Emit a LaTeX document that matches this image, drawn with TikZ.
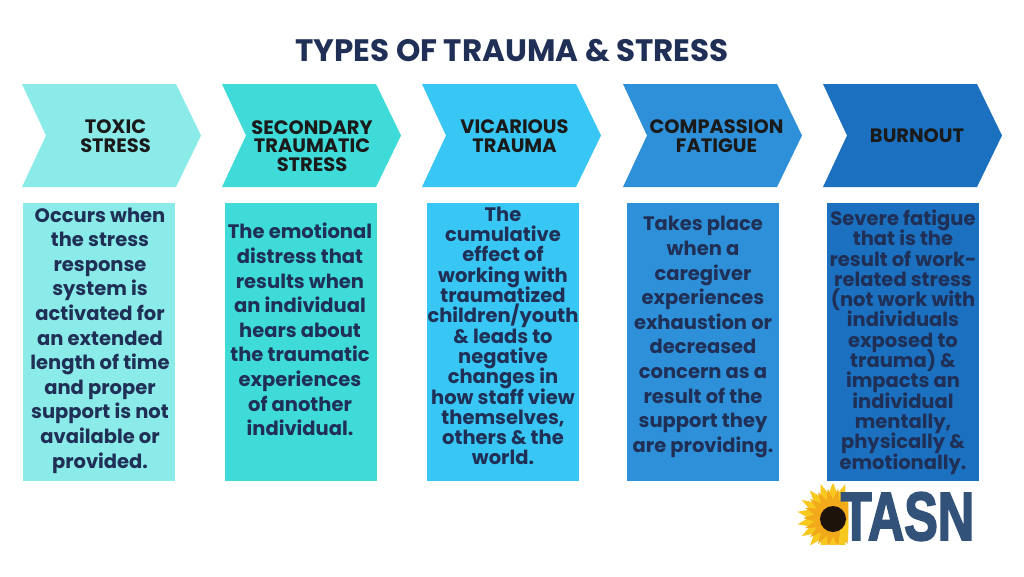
\documentclass[tikz,border=0pt]{standalone}
\usepackage{fontspec}
\setmainfont{Poppins}
\newfontfamily\logofont[FakeBold=3]{Liberation Sans}
\usetikzlibrary{calc}
\definecolor{navy}{HTML}{1F2F56}
\definecolor{hdr}{HTML}{1A1A1A}
\definecolor{cA}{HTML}{8AEBE8}
\definecolor{cB}{HTML}{3EDBD9}
\definecolor{cC}{HTML}{38C6F4}
\definecolor{cD}{HTML}{2E90D9}
\definecolor{cE}{HTML}{1B70BF}
\definecolor{tasn}{HTML}{33527A}
\definecolor{petal}{HTML}{F7C81E}
\definecolor{petalb}{HTML}{F2A91A}
\newcommand{\chev}[2]{\fill[#2] (#1,84) -- ++(154,0) -- ++(25,51.5) -- ++(-25,51.5) -- ++(-154,0) -- ++(24,-51.5) -- cycle;}
\tikzset{
 titletext/.style={font=\fontsize{31}{34}\selectfont\bfseries,text=navy,anchor=center,inner sep=0},
 headtext/.style={font=\fontsize{19.4}{18.6}\selectfont\bfseries,text=hdr,align=center,anchor=center,inner sep=0,execute at begin node={\lineskiplimit=-100pt}},
 bodybox/.style={anchor=north west,minimum width=152,minimum height=278,inner sep=0,draw=none},
 bodytext/.style={font=\fontsize{19.5}{24.6}\selectfont\bfseries,text=navy,align=center,anchor=center,inner sep=0,execute at begin node={\lineskiplimit=-100pt}},
 tighttext/.style={bodytext,font=\fontsize{19.5}{20.3}\selectfont\bfseries},
 tasnletters/.style={font=\fontsize{68}{68}\selectfont\logofont\bfseries,text=tasn,inner sep=0,anchor=center},
}
\begin{document}
\begin{tikzpicture}[x=1pt,y=-1pt]
\useasboundingbox (0,0) rectangle (1024,576);
\fill[white] (0,0) rectangle (1024,576);
\node[titletext] (title) at (512,51) {TYPES OF TRAUMA \& STRESS};
\chev{22}{cA}\chev{222}{cB}\chev{422}{cC}\chev{623}{cD}\chev{823}{cE}
\node[headtext] (h1) at (115.5,136) {TOXIC\\STRESS};
\node[headtext] (h2) at (312,146) {SECONDARY\\TRAUMATIC\\STRESS};
\node[headtext] (h3) at (514.5,136) {VICARIOUS\\TRAUMA};
\node[headtext] (h4) at (716.5,136) {COMPASSION\\FATIGUE};
\node[headtext] (h5) at (917,136) {BURNOUT};
\node[bodybox,fill=cA] (b1) at (23,203) {};
\node[bodybox,fill=cB] (b2) at (225,203) {};
\node[bodybox,fill=cC] (b3) at (427,203) {};
\node[bodybox,fill=cD] (b4) at (627,203) {};
\node[bodybox,fill=cE] (b5) at (827,203) {};
\node[bodytext] (t1) at (100,340.5) {Occurs when\\the stress\\response\\system is\\activated for\\an extended\\length of time\\and proper\\support is not\\available or\\provided.};
\node[bodytext] (t2) at (300,329.5) {The emotional\\distress that\\results when\\an individual\\hears about\\the traumatic\\experiences\\of another\\individual.};
\node[tighttext] (t3) at (503,336) {The\\cumulative\\effect of\\working with\\traumatized\\children/youth\\\& leads to\\negative\\changes in\\how staff view\\themselves,\\others \& the\\world.};
\node[bodytext] (t4) at (703,337) {Takes place\\when a\\caregiver\\experiences\\exhaustion or\\decreased\\concern as a\\result of the\\support they\\are providing.};
\node[tighttext] (t5) at (903,342) {Severe fatigue\\that is the\\result of work-\\related stress\\(not work with\\individuals\\exposed to\\trauma) \&\\impacts an\\individual\\mentally,\\physically \&\\emotionally.};
% logo
\begin{scope}
\clip (790,484) rectangle (848,544);
\foreach \a in {0,20,...,340}{
 \fill[petal,rotate around={\a:(833,518)}] (833,518) -- (841,504) -- (833,482) -- (825,504) -- cycle;
}
\foreach \a in {10,30,...,350}{
 \fill[petalb,rotate around={\a:(833,518)}] (833,518) -- (838,506) -- (833,488) -- (828,506) -- cycle;
}
\fill[petal] (840,520) rectangle (848,541);
\end{scope}
\fill[black!85!brown] (833,519) circle (13);
\node[tasnletters] (logo) at (907.5,516.5) {\scalebox{0.74}[1]{TASN}};
\end{tikzpicture}
\end{document}
